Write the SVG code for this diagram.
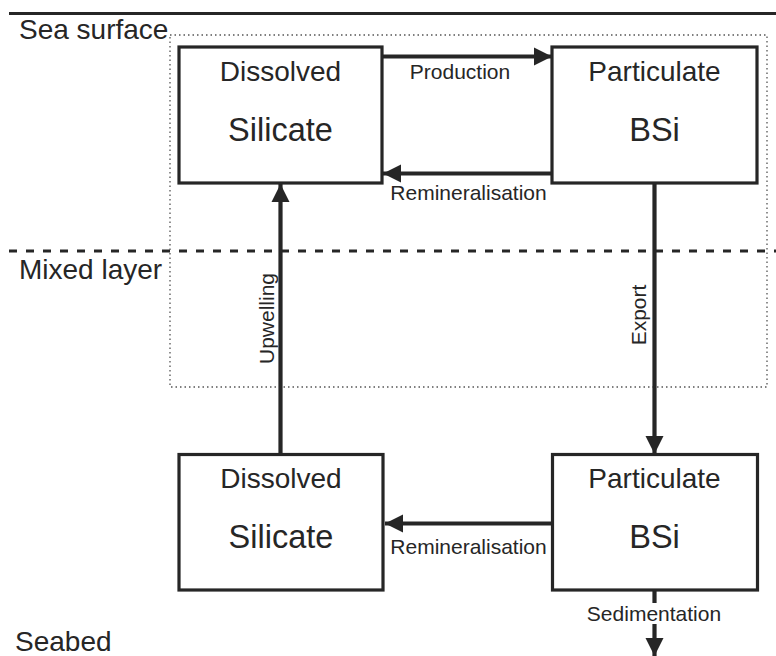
<svg xmlns="http://www.w3.org/2000/svg" width="776" height="656" viewBox="0 0 776 656">
  <style>
    .box { fill: #ffffff; stroke: #262626; stroke-width: 3.2; }
    .t { font-family: "Liberation Sans", Arial, sans-serif; fill: #262626; text-anchor: middle; }
    .n1 { font-size: 28px; }
    .n2 { font-size: 32.5px; }
    .lbl { font-size: 21px; }
    .zone { font-family: "Liberation Sans", Arial, sans-serif; fill: #262626; font-size: 28px; }
    .flow { stroke: #262626; stroke-width: 4.2; fill: none; }
  </style>
  <defs>
    <marker id="ah" markerUnits="userSpaceOnUse" markerWidth="19" markerHeight="19" refX="18" refY="9" orient="auto" viewBox="0 0 19 18">
      <path d="M0,0 L18,9 L0,18 z" fill="#262626"/>
    </marker>
  </defs>
  <rect width="776" height="656" fill="#ffffff"/>

  <g id="layers">
    <line x1="9" y1="13.5" x2="776" y2="13.5" stroke="#262626" stroke-width="3"/>
    <line x1="9" y1="251" x2="776" y2="251" stroke="#262626" stroke-width="3" stroke-dasharray="8 9"/>
    <rect x="170" y="35" width="597" height="352" fill="none" stroke="#555555" stroke-width="1.3" stroke-dasharray="1.5 3"/>
    <text class="zone" x="19" y="39">Sea surface</text>
    <text class="zone" x="19" y="279">Mixed layer</text>
    <text class="zone" x="15" y="651">Seabed</text>
  </g>

  <g id="connectors">
    <line class="flow" x1="382" y1="56.5" x2="552" y2="56.5" marker-end="url(#ah)"/>
    <text class="t lbl" x="460" y="79">Production</text>
    <line class="flow" x1="552" y1="173.5" x2="383" y2="173.5" marker-end="url(#ah)"/>
    <text class="t lbl" x="468.5" y="200">Remineralisation</text>
    <line class="flow" x1="654.5" y1="183" x2="654.5" y2="454" marker-end="url(#ah)"/>
    <text class="t lbl" transform="translate(645.5,315) rotate(-90)" x="0" y="0">Export</text>
    <line class="flow" x1="280.5" y1="454" x2="280.5" y2="184" marker-end="url(#ah)"/>
    <text class="t lbl" transform="translate(273.5,318.5) rotate(-90)" x="0" y="0">Upwelling</text>
    <line class="flow" x1="552" y1="523.5" x2="385" y2="523.5" marker-end="url(#ah)"/>
    <text class="t lbl" x="468.5" y="553.5">Remineralisation</text>
    <line class="flow" x1="654.5" y1="590" x2="654.5" y2="603"/>
    <line class="flow" x1="654.5" y1="624" x2="654.5" y2="656" marker-end="url(#ah)"/>
    <text class="t lbl" x="654" y="621">Sedimentation</text>
  </g>

  <g id="dsi-surface">
    <rect class="box" x="179" y="47" width="203" height="136"/>
    <text class="t n1" x="280.5" y="81">Dissolved</text>
    <text class="t n2" x="280.5" y="141">Silicate</text>
  </g>
  <g id="bsi-surface">
    <rect class="box" x="552" y="47" width="205" height="136"/>
    <text class="t n1" x="654.5" y="81">Particulate</text>
    <text class="t n2" x="654.5" y="141">BSi</text>
  </g>
  <g id="dsi-deep">
    <rect class="box" x="179" y="454.5" width="204" height="135.5"/>
    <text class="t n1" x="281" y="488">Dissolved</text>
    <text class="t n2" x="281" y="548">Silicate</text>
  </g>
  <g id="bsi-deep">
    <rect class="box" x="552.5" y="454.5" width="205" height="135.5"/>
    <text class="t n1" x="654.5" y="488">Particulate</text>
    <text class="t n2" x="654.5" y="548">BSi</text>
  </g>
</svg>
